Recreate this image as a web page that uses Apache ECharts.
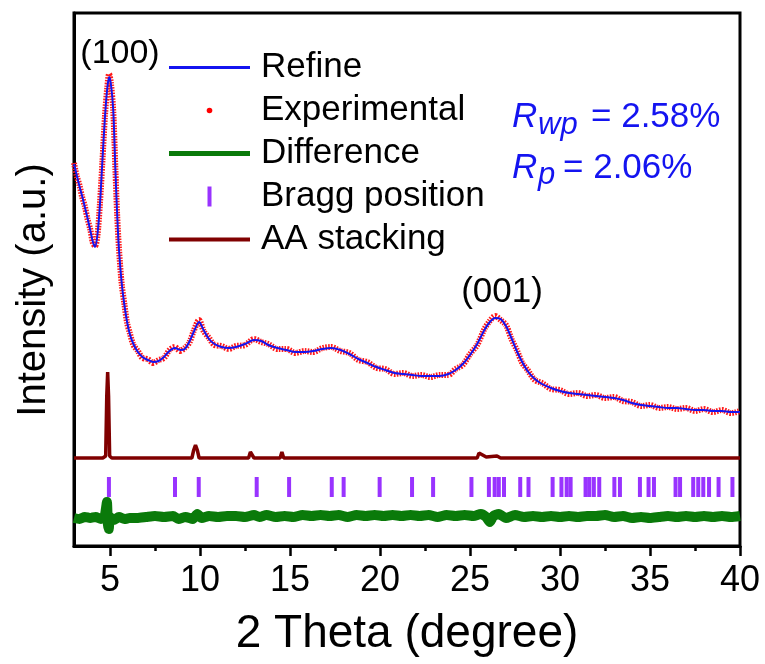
<!DOCTYPE html>
<html><head><meta charset="utf-8">
<script src="https://cdn.jsdelivr.net/npm/echarts@6/dist/echarts.min.js"></script>
<style>html,body{margin:0;padding:0;background:#fff}#c{width:765px;height:664px}</style>
</head><body><div id="c"></div>
<script>
// 2θ grid for the measured / refined pattern
const twoTheta = [3.0,3.15,3.3,3.45,3.6,3.75,3.9,4.05,4.17,4.3,4.44,4.58,4.72,4.85,4.95,5.05,5.18,5.3,5.4,5.5,5.65,5.8,5.95,6.1,6.3,6.55,6.8,7.1,7.4,7.7,8.0,8.3,8.6,8.9,9.15,9.4,9.65,9.95,10.2,10.5,10.8,11.2,11.6,12.0,12.5,13.0,13.4,13.8,14.3,14.8,15.3,15.8,16.3,16.8,17.3,17.8,18.3,18.8,19.3,19.8,20.3,20.8,21.3,21.8,22.3,22.8,23.3,23.8,24.2,24.6,25.0,25.4,25.8,26.1,26.4,26.7,27.0,27.3,27.6,27.9,28.2,28.6,29.0,29.5,30.0,30.5,31.0,31.5,32.0,32.5,33.0,33.5,34.0,34.5,35.0,35.5,36.0,36.5,37.0,37.5,38.0,38.5,39.0,39.5,40.0];
const refine = [382,371,360,350,339,328,316,304,299,311,341,386,429,458,469,462,436,376,331,296,263,241,224,212,202,194,189,186,184,185,189,195,198,196,197,204,214,224,216,207,202,199,198,199,202,206,205,201,198,196,194,194,195,197,198,196,192,187,183,179,176,173,172,171,170,170,170,172,176,182,191,202,216,224,228,227,220,208,195,184,175,167,162,158,155,153,152,151,150,149,148,146,143,141,140,139,138,138,137,136,136,135,135,134,134];
const experimental = [383,370,361,349,340,327,317,303,300,310,342,385,430,459,472,463,435,377,330,297,262,242,223,213,201,195,188,187,183,186,188,196,199,195,198,203,215,226,215,208,201,200,197,200,201,207,204,202,197,197,193,195,194,198,199,195,193,186,184,178,177,172,173,170,171,169,171,171,177,181,192,201,217,225,230,226,221,207,196,183,176,166,163,157,156,152,153,150,151,148,149,145,144,140,141,138,139,137,138,135,137,134,136,133,135];

// Difference curve
const diffTheta = [3.0,3.3,3.6,3.9,4.2,4.5,4.7,4.78,4.83,4.88,4.93,5.0,5.2,5.5,5.8,6.1,6.5,7.0,7.5,8.0,8.5,8.8,9.2,9.6,9.85,10.1,10.5,11.0,11.5,12.0,12.5,13.0,13.3,13.7,14.2,14.7,15.2,15.7,16.2,16.7,17.2,17.7,18.2,18.7,19.2,19.7,20.2,20.7,21.2,21.7,22.2,22.7,23.2,23.7,24.2,24.7,25.2,25.6,25.9,26.1,26.3,26.6,27.0,27.5,28.0,28.5,29.0,29.5,30.0,30.5,31.0,31.5,32.0,32.5,33.0,33.5,34.0,34.5,35.0,35.5,36.0,36.5,37.0,37.5,38.0,38.5,39.0,39.5,40.0];
const diffValue = [28,27,29,28,29,27,30,38,44,22,17,29,26,29,27,28,28,29,30,29,30,27,29,27,32,28,30,29,30,30,29,31,29,31,29,30,29,31,30,31,30,31,29,31,30,31,30,31,30,31,30,31,29,31,30,31,30,32,29,24,30,32,28,31,29,30,29,30,29,30,29,30,30,31,29,30,28,29,28,29,30,29,30,29,30,29,30,29,30];

// AA stacking simulated pattern
const aaTheta = [3,4.6,4.76,4.82,4.87,4.92,4.98,5.1,8.45,8.55,8.65,9.55,9.65,9.75,9.85,9.95,12.7,12.8,12.9,13.0,14.45,14.55,14.65,17.2,17.3,17.4,25.4,25.5,25.6,25.7,25.9,26.5,26.7,40];
const aaIntensity = [88,88,90,150,174,150,90,88,88,90,88,88,96,101,96,88,88,94,96,88,88,94,88,88,90,88,88,93,95,91,89,90,88,88];

// Bragg positions
const braggPos = [4.94,8.61,9.93,13.15,14.95,17.32,17.98,19.98,21.78,22.95,25.08,26.05,26.37,26.6,26.89,27.79,28.25,29.59,30.08,30.37,30.59,31.42,31.63,31.88,32.18,33.02,33.33,34.44,34.92,35.22,36.42,36.67,37.4,37.68,37.96,38.28,38.81,39.58];
const braggLevel = 59;

const xTicks = [5,10,15,20,25,30,35,40];
const xMinorTicks = [7.5,12.5,17.5,22.5,27.5,32.5,37.5];

const FONT = '"Liberation Sans", Arial, sans-serif';
const BLUE = '#1414f0';
const zip = (xs, ys) => xs.map((x, i) => [x, ys[i]]);
const barIcon = h => 'path://M0,0L81,0L81,' + h + 'L0,' + h + 'Z';

const chart = echarts.init(document.getElementById('c'), null, {renderer: 'canvas'});
chart.setOption({
  animation: false,
  backgroundColor: '#fff',
  grid: {left: 74, right: 25, top: 13, bottom: 118, show: true, borderColor: '#000', borderWidth: 3, backgroundColor: 'transparent'},
  xAxis: [{
    type: 'value', min: 3, max: 40, position: 'bottom',
    axisLine: {show: true, onZero: false, lineStyle: {color: '#000', width: 3}},
    axisTick: {show: true, customValues: xTicks, length: 10, lineStyle: {color: '#000', width: 2.5}},
    axisLabel: {show: true, customValues: xTicks, margin: 17, fontSize: 36, color: '#000', fontFamily: FONT},
    splitLine: {show: false},
    name: '2 Theta (degree)', nameLocation: 'middle', nameGap: 65,
    nameTextStyle: {fontSize: 46, color: '#000', fontFamily: FONT}
  }, {
    type: 'value', min: 3, max: 40, position: 'bottom',
    axisLine: {show: false},
    axisTick: {show: true, customValues: xMinorTicks, length: 5, lineStyle: {color: '#000', width: 2.5}},
    axisLabel: {show: false},
    splitLine: {show: false}
  }],
  yAxis: {
    type: 'value', min: 0, max: 533,
    axisLine: {show: true, lineStyle: {color: '#000', width: 3}},
    axisTick: {show: false}, axisLabel: {show: false}, splitLine: {show: false}
  },
  legend: {
    orient: 'vertical', left: 164, top: 45, itemWidth: 81, itemHeight: 20, itemGap: 8,
    selectedMode: false,
    textStyle: {fontSize: 35, color: '#000', fontFamily: FONT, padding: [0, 0, 0, 6]},
    data: [
      {name: 'Refine', icon: barIcon(3)},
      {name: 'Experimental', icon: 'path://M0,0M20,20M12.8,10A2.8,2.8,0,1,1,7.2,10A2.8,2.8,0,1,1,12.8,10Z'},
      {name: 'Difference', icon: barIcon(5)},
      {name: 'Bragg position', icon: 'path://M0,0L4,0L4,20L0,20Z'},
      {name: 'AA stacking', icon: barIcon(4)}
    ]
  },
  series: [
    {name: 'AA stacking', type: 'line', symbol: 'none', color: '#800000', z: 2,
     lineStyle: {color: '#800000', width: 3.5}, data: zip(aaTheta, aaIntensity)},
    {name: 'Bragg position', type: 'scatter', symbol: 'rect', symbolSize: [4, 20], color: '#7f00ff', z: 2,
     itemStyle: {color: '#7f00ff'}, data: braggPos.map(x => [x, braggLevel])},
    {name: 'Difference', type: 'line', symbol: 'none', color: '#0a7a0a', z: 2, smooth: 0.2,
     lineStyle: {color: '#0a7a0a', width: 10}, data: zip(diffTheta, diffValue)},
    {name: 'Experimental', type: 'line', symbol: 'none', color: '#ff0000', z: 3, smooth: 0.3,
     lineStyle: {color: '#ff1a1a', width: 6, type: [1.5, 1.2]}, data: zip(twoTheta, experimental)},
    {name: 'Refine', type: 'line', symbol: 'none', color: BLUE, z: 4, smooth: 0.3,
     lineStyle: {color: BLUE, width: 2}, data: zip(twoTheta, refine)}
  ],
  graphic: [
    {type: 'text', position: [34, 290], rotation: Math.PI / 2, style: {text: 'Intensity (a.u.)', align: 'center', verticalAlign: 'middle', fontSize: 40, fill: '#000', fontFamily: FONT}},
    {type: 'text', position: [120, 54], style: {text: '(100)', align: 'center', verticalAlign: 'middle', fontSize: 34, fill: '#000', fontFamily: FONT}},
    {type: 'text', position: [502, 292], style: {text: '(001)', align: 'center', verticalAlign: 'middle', fontSize: 35, fill: '#000', fontFamily: FONT}},
    {type: 'text', position: [512, 117], style: {text: 'R', align: 'left', verticalAlign: 'middle', fontSize: 35, fontStyle: 'italic', fill: BLUE, fontFamily: FONT}},
    {type: 'text', position: [538, 125], style: {text: 'wp', align: 'left', verticalAlign: 'middle', fontSize: 31, fontStyle: 'italic', fill: BLUE, fontFamily: FONT}},
    {type: 'text', position: [591, 117], style: {text: '= 2.58%', align: 'left', verticalAlign: 'middle', fontSize: 35, fill: BLUE, fontFamily: FONT}},
    {type: 'text', position: [512, 168], style: {text: 'R', align: 'left', verticalAlign: 'middle', fontSize: 35, fontStyle: 'italic', fill: BLUE, fontFamily: FONT}},
    {type: 'text', position: [538, 175], style: {text: 'p', align: 'left', verticalAlign: 'middle', fontSize: 31, fontStyle: 'italic', fill: BLUE, fontFamily: FONT}},
    {type: 'text', position: [563, 168], style: {text: '= 2.06%', align: 'left', verticalAlign: 'middle', fontSize: 35, fill: BLUE, fontFamily: FONT}}
  ]
});
</script>
</body></html>
